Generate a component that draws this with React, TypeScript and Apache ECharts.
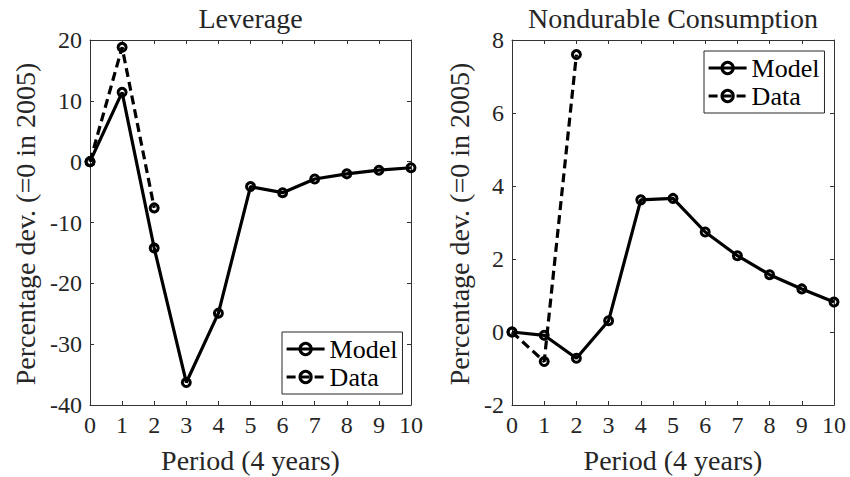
import React, { useEffect, useRef } from "react";
import * as echarts from "echarts";

const periods = [0, 1, 2, 3, 4, 5, 6, 7, 8, 9, 10];
const dataPeriods = [0, 1, 2];
const leverageModel = [0, 11.4, -14.2, -36.3, -24.9, -4.1, -5.1, -2.85, -2.0, -1.4, -1.0];
const leverageData = [0, 18.8, -7.6];
const consumptionModel = [0, -0.09, -0.72, 0.31, 3.62, 3.66, 2.74, 2.09, 1.57, 1.18, 0.82];
const consumptionData = [0, -0.81, 7.6];
const leverageTicks = [-40, -30, -20, -10, 0, 10, 20];
const consumptionTicks = [-2, 0, 2, 4, 6, 8];
const periodTicks = [0, 10];
const titles = ["Leverage", "Nondurable Consumption"];
const xLabel = "Period (4 years)";
const yLabel = "Percentage dev. (=0 in 2005)";
const seriesNames = ["Model", "Data"];

const FONT = "'Liberation Serif', 'Times New Roman', serif";
const TXT = "#262626";
const AXC = "#333333";

const grids = [
  { left: 90, top: 40, width: 321, height: 365 },
  { left: 512, top: 40, width: 322, height: 365 },
];

function pairs(xs: number[], ys: number[]) {
  return ys.map((y, i) => [xs[i], y]);
}

export default function App() {
  const ref = useRef<HTMLDivElement>(null);
  useEffect(() => {
    document.body.style.margin = "0";
    const chart = echarts.init(ref.current!, null, { renderer: "svg" });
    const yTicksSets = [leverageTicks, consumptionTicks];

    const xAxes: any[] = [];
    const yAxes: any[] = [];
    grids.forEach((_, gi) => {
      const yt = yTicksSets[gi];
      const common = {
        gridIndex: gi,
        type: "value",
        splitLine: { show: false },
        axisLine: { show: true, onZero: false, lineStyle: { color: AXC, width: 1 } },
        axisTick: { show: true, inside: true, length: 4, lineStyle: { color: AXC, width: 1 } },
      };
      xAxes.push({
        ...common,
        position: "bottom",
        min: periodTicks[0],
        max: periodTicks[1],
        interval: 1,
        axisLabel: { show: true, color: TXT, fontFamily: FONT, fontSize: 24, margin: 8 },
      });
      xAxes.push({
        ...common,
        position: "top",
        min: periodTicks[0],
        max: periodTicks[1],
        interval: 1,
        axisLabel: { show: false },
      });
      const ymin = yt[0];
      const ymax = yt[yt.length - 1];
      const yint = yt[1] - yt[0];
      yAxes.push({
        ...common,
        position: "left",
        min: ymin,
        max: ymax,
        interval: yint,
        axisLabel: { show: true, color: TXT, fontFamily: FONT, fontSize: 24, margin: 8 },
      });
      yAxes.push({
        ...common,
        position: "right",
        min: ymin,
        max: ymax,
        interval: yint,
        axisLabel: { show: false },
      });
    });

    const mk = (name: string, gi: number, data: number[][], dashed: boolean) => ({
      name,
      type: "line",
      xAxisIndex: gi * 2,
      yAxisIndex: gi * 2,
      data,
      symbol: "circle",
      symbolSize: 8,
      showSymbol: true,
      color: "#000",
      itemStyle: { color: "rgba(255,255,255,0)", borderColor: "#000", borderWidth: 3 },
      lineStyle: { color: "#000", width: 3.2, type: dashed ? [9, 5] : "solid" },
      z: dashed ? 3 : 2,
    });

    const series = [
      mk(seriesNames[0], 0, pairs(periods, leverageModel), false),
      mk(seriesNames[1], 0, pairs(dataPeriods, leverageData), true),
      mk(seriesNames[0], 1, pairs(periods, consumptionModel), false),
      mk(seriesNames[1], 1, pairs(dataPeriods, consumptionData), true),
    ];

    const legendCommon = {
      orient: "vertical",
      data: seriesNames,
      backgroundColor: "#fff",
      borderColor: "#262626",
      borderWidth: 1,
      borderRadius: 0,
      padding: [4, 5, 4, 3],
      itemGap: 2,
      itemWidth: 38,
      itemHeight: 14,
      selectedMode: false,
      lineStyle: { width: 3.2 },
      itemStyle: { borderWidth: 3 },
      textStyle: { color: "#000", fontFamily: FONT, fontSize: 26 },
    };

    const textEl = (text: string, x: number, y: number, rot = 0, size = 28) => ({
      type: "text",
      x,
      y,
      rotation: rot,
      style: {
        text,
        fill: TXT,
        fontFamily: FONT,
        fontSize: size,
        align: "center",
        verticalAlign: "middle",
      },
      z: 10,
    });

    chart.setOption({
      animation: false,
      backgroundColor: "#fff",
      grid: grids.map((g) => ({ ...g, containLabel: false })),
      xAxis: xAxes,
      yAxis: yAxes,
      series,
      legend: [
        { ...legendCommon, left: 282, top: 332 },
        { ...legendCommon, left: 704, top: 51 },
      ],
      graphic: [
        textEl(titles[0], 250.5, 18),
        textEl(titles[1], 673, 18),
        textEl(xLabel, 250.5, 460),
        textEl(xLabel, 673, 460),
        textEl(yLabel, 25, 224, Math.PI / 2),
        textEl(yLabel, 459, 224, Math.PI / 2),
      ],
    });
    return () => chart.dispose();
  }, []);
  return (
    <div
      ref={ref}
      style={{ position: "absolute", left: 0, top: 0, width: 850, height: 477 }}
    />
  );
}
